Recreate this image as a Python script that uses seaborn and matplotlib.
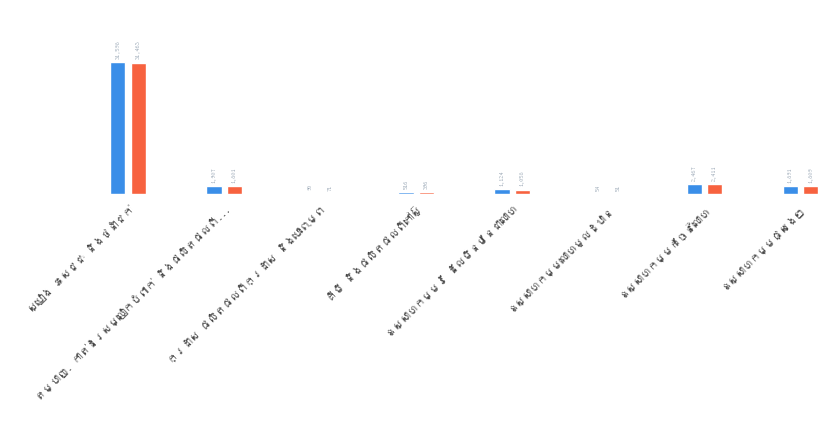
import pandas as pd
import matplotlib.pyplot as plt
import seaborn as sns
from matplotlib import font_manager
from fontTools.ttLib import TTFont

categories = [
    'ស្បៀង ភេសជ្ជៈ និងថ្នាំជក់',
    'តម្បាញ. កាត់ដេរសម្លៀកបំពាក់ និងផលិតផលពី...',
    'ក្រដាស ផលិតផលពីក្រដាស និងបោះពុម្ព',
    'គីមី និងផលិតផលពីកៅស៊ូ',
    'ឧស្សាហកម្មរ៉ែ ដែលមិនមែនជាលោហៈ',
    'ឧស្សាហកម្មលោហៈមូលដ្ឋាន',
    'ឧស្សាហកម្មកែច្នៃលោហៈ',
    'ឧស្សាហកម្មផ្សេងៗ',
]
series_names = ['2019', '2020']
values_a = [31598, 1907, 90, 516, 1124, 54, 2467, 1891]
values_b = [31463, 1801, 71, 396, 1058, 51, 2411, 1809]

df = pd.DataFrame({
    'category': categories * 2,
    'series': [series_names[0]] * len(categories) + [series_names[1]] * len(categories),
    'value': values_a + values_b,
})


# look for any installed font that covers Khmer
def find_khmer_family():
    for f in font_manager.fontManager.ttflist:
        try:
            tt = TTFont(f.fname, fontNumber=0, lazy=True)
            cmap = tt.getBestCmap() or {}
            if 0x1780 in cmap and 0x17D2 in cmap:
                return f.name
        except Exception:
            continue
    return None


khmer = find_khmer_family()

sns.set_theme(style="white")
families = ['Noto Sans', 'DejaVu Sans']
if khmer:
    families = [khmer] + families
plt.rcParams['font.family'] = families

fig = plt.figure(figsize=(8.3, 4.27), dpi=100)
ax = fig.add_axes([80 / 830, 232 / 427, 750 / 830, 175 / 427])

sns.barplot(data=df, x='category', y='value', hue='series',
            palette=['#3a8ee8', '#f7623f'], saturation=1, width=0.42, gap=0.25,
            legend=False, ax=ax)

for cont in ax.containers:
    ax.bar_label(cont, labels=[f'{v:,.0f}' for v in cont.datavalues],
                 rotation=90, padding=3, fontsize=4.5, color='#8a9aaa')

ax.set_ylim(0, 41900)
ax.set_xlim(-0.5, 7.31)
ax.set_xlabel('')
ax.set_ylabel('')
ax.set_yticks([])
ax.tick_params(axis='x', length=0, pad=6)
plt.setp(ax.get_xticklabels(), rotation=45, ha='right',
         rotation_mode='anchor', fontsize=7.5, color='#444444')
sns.despine(ax=ax, left=True, bottom=True)

fig.savefig('out.png', dpi=100, facecolor='white')
